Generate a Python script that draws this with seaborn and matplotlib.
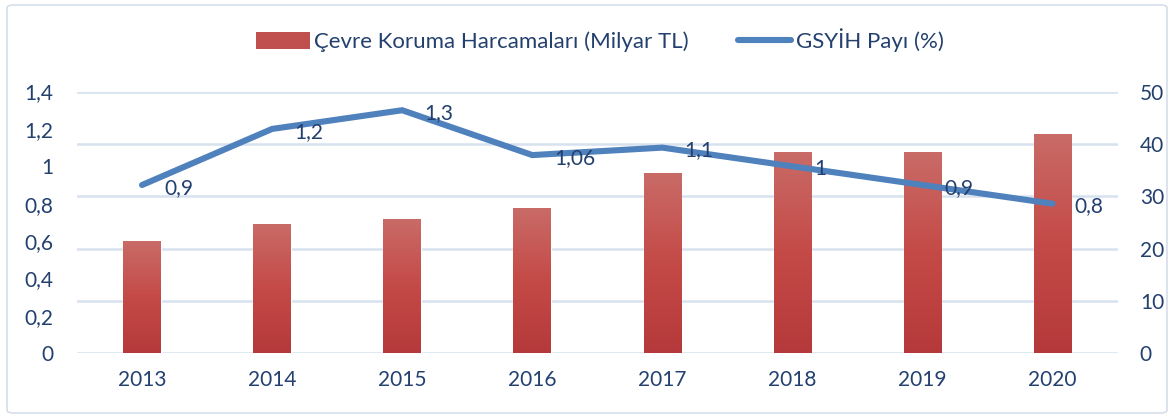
import seaborn as sns
import matplotlib.pyplot as plt
import numpy as np
import pandas as pd
from matplotlib.colors import LinearSegmentedColormap
from matplotlib.lines import Line2D
from matplotlib.patches import Patch, FancyBboxPatch
from matplotlib.ticker import FuncFormatter

# veriler
years = ["2013", "2014", "2015", "2016", "2017", "2018", "2019", "2020"]
spending = [21.3, 24.5, 25.5, 27.6, 34.3, 38.3, 38.3, 41.7]   # Milyar TL (sağ eksen)
gdp_share = [0.9, 1.2, 1.3, 1.06, 1.1, 1.0, 0.9, 0.8]         # % (sol eksen)

sns.set_theme(style="white")
plt.rcParams["font.family"] = ["Lato", "DejaVu Sans"]

txt = "#23406f"
grid = "#d7e1ef"
blue = "#4f81bd"

df = pd.DataFrame(dict(year=years, spend=spending, share=gdp_share))

fig = plt.figure(figsize=(11.74, 4.18), dpi=100)
ax = fig.add_axes([0.0656, 0.155, 0.8864, 0.626])

# dış çerçeve
fig.patches.append(FancyBboxPatch((0.006, 0.012), 0.988, 0.976,
                                  boxstyle="round,pad=0,rounding_size=0.006",
                                  transform=fig.transFigure, fill=False,
                                  edgecolor="#d5deea", linewidth=1.2))

# çubuklar (sağ eksen)
sns.barplot(data=df, x="year", y="spend", ax=ax, color="#c0504d",
            width=0.29, saturation=1, zorder=2)
cmap = LinearSegmentedColormap.from_list("g", ["#b5393a", "#c44a47", "#c96b67"])
grad = np.linspace(0, 1, 256).reshape(-1, 1)
for p in list(ax.patches):
    x0, w, h = p.get_x(), p.get_width(), p.get_height()
    ax.imshow(grad, extent=[x0, x0 + w, 0, h], origin="lower", aspect="auto",
              cmap=cmap, zorder=3)
ax.set_xlim(-0.5, 7.5)
ax.set_ylim(0, 50)
ax.set_yticks(range(0, 51, 10))
ax.yaxis.grid(True, color=grid, linewidth=1.8, zorder=0)
ax.set_axisbelow(True)

# çizgi (sol eksen)
ax2 = ax.twinx()
sns.lineplot(data=df, x="year", y="share", ax=ax2, color=blue,
             linewidth=4.4, solid_capstyle="round", solid_joinstyle="miter")
ax2.set_ylim(0, 1.4)
ax2.set_yticks(np.arange(0, 1.41, 0.2))
ax2.yaxis.tick_left()
ax.yaxis.tick_right()
ax2.yaxis.set_major_formatter(FuncFormatter(lambda v, _: f"{v:g}".replace(".", ",")))
for i, v in enumerate(gdp_share):
    ax2.annotate(f"{v:g}".replace(".", ","), (i, v), xytext=(16, -2),
                 textcoords="offset points", ha="left", va="center",
                 color=txt, fontsize=15)

for a in (ax, ax2):
    a.set_xlabel("")
    a.set_ylabel("")
    for s in a.spines.values():
        s.set_visible(False)
    a.tick_params(length=0, labelsize=15, labelcolor=txt)
ax.tick_params(axis="y", pad=16)
ax2.tick_params(axis="y", pad=17)
ax.tick_params(axis="x", pad=12)

# gösterge
handles = [Patch(facecolor="#c0504d", edgecolor="none"),
           Line2D([0], [0], color=blue, linewidth=4.4, solid_capstyle="round")]
fig.legend(handles, ["Çevre Koruma Harcamaları (Milyar TL)", "GSYİH Payı (%)"],
           loc="center", bbox_to_anchor=(0.511, 0.904), ncol=2, frameon=False,
           fontsize=16, labelcolor=txt, handlelength=2.4, handleheight=0.8,
           handletextpad=0.2, columnspacing=2.2)

fig.savefig("out.png", dpi=100)
